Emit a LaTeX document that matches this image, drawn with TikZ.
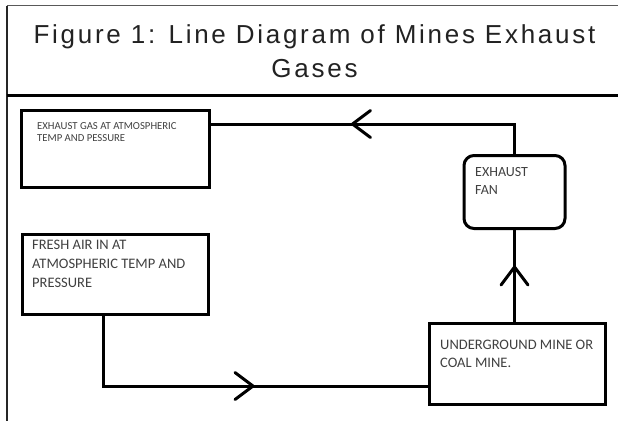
\documentclass[tikz,border=0pt]{standalone}
\usepackage{fontspec}
\setmainfont{Carlito}
\newfontfamily\titlefont[LetterSpace=10.5]{Liberation Sans}
\usetikzlibrary{decorations.markings}
\definecolor{txtgray}{HTML}{404040}
\definecolor{titlegray}{HTML}{222222}
\tikzset{
  flowbox/.style={draw=black, line width=3pt, inner sep=0pt, rectangle},
  roundbox/.style={flowbox, rounded corners=10pt},
  boxtext/.style={anchor=north west, inner sep=0pt, align=left, text=txtgray,
    font=\fontsize{14.5}{19}\selectfont},
  flowline/.style={draw=black, line width=3pt},
  chev/.style={postaction={decorate}, decoration={markings,
    mark=at position #1 with {\draw[line width=3pt, line cap=round, line join=round]
      (-18pt,13.5pt) -- (0pt,0pt) -- (-18pt,-13.5pt);}}},
}
\begin{document}
\begin{tikzpicture}[x=1pt,y=-1pt]
\useasboundingbox (0,0) rectangle (618,421);
% frame
\coordinate (ftl) at (6.5,5.5);
\coordinate (ftr) at (618,5.5);
\coordinate (fbl) at (6.5,421);
\coordinate (hl) at (6.5,95.5);
\coordinate (hr) at (618,95.5);
\draw[line width=1.5pt, draw=black!65] (ftl) -- (ftr);
\draw[line width=2pt, draw=black!85] (ftl) -- (fbl);
\draw[line width=2.5pt] (hl) -- (hr);
% title
\node[anchor=base, inner sep=0pt, text=titlegray, font=\titlefont\fontsize{26}{34}\selectfont, align=center] (title) at (314.5,77) {Figure 1: Line Diagram of Mines Exhaust\\Gases};
% boxes
\node[flowbox, minimum width=188pt, minimum height=77pt] (exgas) at (115.5,149) {};
\node[flowbox, minimum width=186pt, minimum height=80pt] (fresh) at (115.5,274.5) {};
\node[roundbox, minimum width=101pt, minimum height=73pt] (fan) at (514.5,192) {};
\node[flowbox, minimum width=176pt, minimum height=81pt] (mine) at (517,364) {};
% texts
\node[boxtext, font=\fontsize{10.7}{12}\selectfont] (exgastext) at (37,122.5) {EXHAUST GAS AT ATMOSPHERIC\\TEMP AND PESSURE};
\node[boxtext] (freshtext) at (32,240) {FRESH AIR IN AT\\ATMOSPHERIC TEMP AND\\PRESSURE};
\node[boxtext, font=\fontsize{14}{17.5}\selectfont] (fantext) at (475,167.5) {EXHAUST\\FAN};
\node[boxtext, font=\fontsize{14.5}{18}\selectfont] (minetext) at (440,340) {UNDERGROUND MINE OR\\COAL MINE.};
% connectors
\draw[flowline, chev=192pt] (fan.north) |- ([yshift=25pt]exgas.east);
\draw[flowline, chev=55pt] (fan.south |- mine.north) -- (fan.south);
\draw[flowline, chev=220pt] ([xshift=-12.5pt]fresh.south) |- ([yshift=-22pt]mine.west);
\end{tikzpicture}
\end{document}
